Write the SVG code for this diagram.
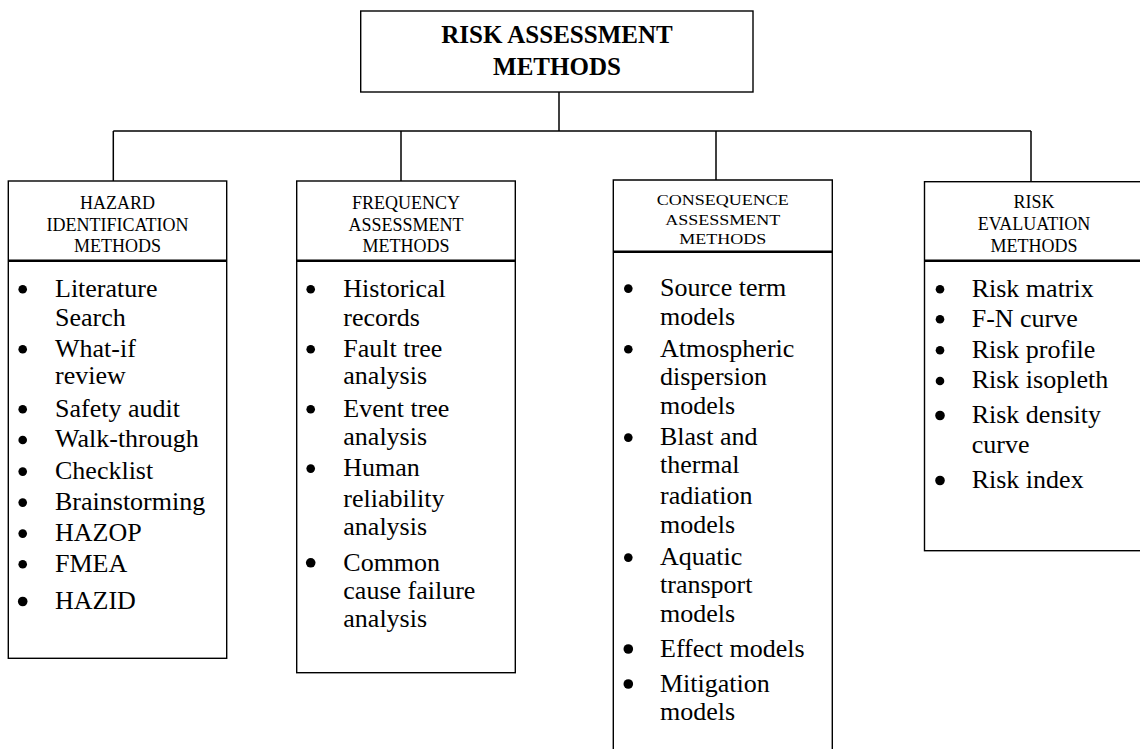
<svg xmlns="http://www.w3.org/2000/svg" width="1140" height="749" viewBox="0 0 1140 749">
  <style>
    .box { fill: #ffffff; stroke: #000000; stroke-width: 1.4; }
    .div { stroke: #000000; stroke-width: 2.4; }
    .wire { fill: none; stroke: #000000; stroke-width: 1.5; }
    .title { font-family: "Liberation Serif", "Times New Roman", serif; font-size: 25px; font-weight: bold; fill: #000; text-anchor: middle; }
    .head { font-family: "Liberation Serif", "Times New Roman", serif; font-size: 18px; fill: #000; text-anchor: middle; }
    .item { font-family: "Liberation Serif", "Times New Roman", serif; font-size: 26px; fill: #000; }
    .dot { fill: #000000; }
  </style>
  <rect width="1140" height="749" fill="#ffffff"/>

  <!-- tree connectors -->
  <g id="connectors">
    <path class="wire" d="M559 92 V131"/>
    <path class="wire" d="M113.3 131 H1031"/>
    <path class="wire" d="M113.3 131 V181"/>
    <path class="wire" d="M401 131 V181"/>
    <path class="wire" d="M716 131 V180"/>
    <path class="wire" d="M1031 131 V181.5"/>
  </g>

  <!-- root -->
  <g id="root">
    <rect class="box" x="360.7" y="11" width="392.3" height="81"/>
    <text class="title" x="557" y="43">RISK ASSESSMENT</text>
    <text class="title" x="557" y="75">METHODS</text>
  </g>

  <!-- hazard identification -->
  <g id="hazard">
    <rect class="box" x="8.3" y="181" width="218.4" height="477.3"/>
    <line class="div" x1="8.3" y1="260.7" x2="226.7" y2="260.7"/>
    <text class="head" x="117.5" y="209">HAZARD</text>
    <text class="head" x="117.5" y="230.7">IDENTIFICATION</text>
    <text class="head" x="117.5" y="251.7">METHODS</text>
    <g class="dot">
      <circle cx="22.7" cy="289.3" r="4.3"/>
      <circle cx="22.7" cy="349.3" r="4.3"/>
      <circle cx="22.7" cy="409.3" r="4.3"/>
      <circle cx="22.7" cy="440" r="4.3"/>
      <circle cx="22.7" cy="471.6" r="4.3"/>
      <circle cx="22.7" cy="502.6" r="4.3"/>
      <circle cx="22.7" cy="533.6" r="4.3"/>
      <circle cx="22.7" cy="564.3" r="4.3"/>
      <circle cx="22.7" cy="601.5" r="4.8"/>
    </g>
    <text class="item" x="55" y="296.7">Literature</text>
    <text class="item" x="55" y="325.7">Search</text>
    <text class="item" x="55" y="356.7">What-if</text>
    <text class="item" x="55" y="384">review</text>
    <text class="item" x="55" y="416.7">Safety audit</text>
    <text class="item" x="55" y="447.3">Walk-through</text>
    <text class="item" x="55" y="479">Checklist</text>
    <text class="item" x="55" y="510">Brainstorming</text>
    <text class="item" x="55" y="541">HAZOP</text>
    <text class="item" x="55" y="571.7">FMEA</text>
    <text class="item" x="55" y="609.3">HAZID</text>
  </g>

  <!-- frequency assessment -->
  <g id="frequency">
    <rect class="box" x="296.7" y="181" width="218.6" height="491.7"/>
    <line class="div" x1="296.7" y1="260.7" x2="515.3" y2="260.7"/>
    <text class="head" x="406" y="209.3">FREQUENCY</text>
    <text class="head" x="406" y="230.7">ASSESSMENT</text>
    <text class="head" x="406" y="251.7">METHODS</text>
    <g class="dot">
      <circle cx="310.7" cy="289.3" r="4.3"/>
      <circle cx="310.7" cy="349.3" r="4.3"/>
      <circle cx="310.7" cy="409.3" r="4.3"/>
      <circle cx="310.7" cy="468.6" r="4.3"/>
      <circle cx="310.7" cy="562.8" r="4.8"/>
    </g>
    <text class="item" x="343.3" y="296.7">Historical</text>
    <text class="item" x="343.3" y="325.7">records</text>
    <text class="item" x="343.3" y="356.7">Fault tree</text>
    <text class="item" x="343.3" y="384.3">analysis</text>
    <text class="item" x="343.3" y="416.7">Event tree</text>
    <text class="item" x="343.3" y="445">analysis</text>
    <text class="item" x="343.3" y="476">Human</text>
    <text class="item" x="343.3" y="506.7">reliability</text>
    <text class="item" x="343.3" y="535">analysis</text>
    <text class="item" x="343.3" y="570.7">Common</text>
    <text class="item" x="343.3" y="599">cause failure</text>
    <text class="item" x="343.3" y="626.7">analysis</text>
  </g>

  <!-- consequence assessment (runs past the lower edge) -->
  <g id="consequence">
    <path class="box" d="M613.3 760 V180 H832.3 V760"/>
    <line class="div" x1="613.3" y1="251.7" x2="832.3" y2="251.7"/>
    <text class="head" transform="translate(722.8 205) scale(1 0.84)">CONSEQUENCE</text>
    <text class="head" transform="translate(722.8 225) scale(1 0.84)">ASSESSMENT</text>
    <text class="head" transform="translate(722.8 244) scale(1 0.84)">METHODS</text>
    <g class="dot">
      <circle cx="628.3" cy="288.6" r="4.3"/>
      <circle cx="628.3" cy="349.3" r="4.3"/>
      <circle cx="628.3" cy="437.6" r="4.3"/>
      <circle cx="628.3" cy="557.6" r="4.3"/>
      <circle cx="628.3" cy="649" r="4.8"/>
      <circle cx="628.3" cy="684" r="4.8"/>
    </g>
    <text class="item" x="660" y="296">Source term</text>
    <text class="item" x="660" y="325">models</text>
    <text class="item" x="660" y="356.7">Atmospheric</text>
    <text class="item" x="660" y="385">dispersion</text>
    <text class="item" x="660" y="414">models</text>
    <text class="item" x="660" y="445">Blast and</text>
    <text class="item" x="660" y="473.3">thermal</text>
    <text class="item" x="660" y="504">radiation</text>
    <text class="item" x="660" y="533.3">models</text>
    <text class="item" x="660" y="565">Aquatic</text>
    <text class="item" x="660" y="593.3">transport</text>
    <text class="item" x="660" y="621.7">models</text>
    <text class="item" x="660" y="656.7">Effect models</text>
    <text class="item" x="660" y="691.7">Mitigation</text>
    <text class="item" x="660" y="720">models</text>
  </g>

  <!-- risk evaluation (runs past the right edge) -->
  <g id="evaluation">
    <rect class="box" x="924.5" y="181.7" width="220" height="369"/>
    <line class="div" x1="924.5" y1="260.7" x2="1145" y2="260.7"/>
    <text class="head" x="1034" y="208">RISK</text>
    <text class="head" x="1034" y="230">EVALUATION</text>
    <text class="head" x="1034" y="251.7">METHODS</text>
    <g class="dot">
      <circle cx="940" cy="289.3" r="4.3"/>
      <circle cx="940" cy="319.3" r="4.3"/>
      <circle cx="940" cy="350.3" r="4.3"/>
      <circle cx="940" cy="381" r="4.3"/>
      <circle cx="940" cy="415.5" r="4.8"/>
      <circle cx="940" cy="480.5" r="4.8"/>
    </g>
    <text class="item" x="971.7" y="296.7">Risk matrix</text>
    <text class="item" x="971.7" y="326.7">F-N curve</text>
    <text class="item" x="971.7" y="357.7">Risk profile</text>
    <text class="item" x="971.7" y="388.3">Risk isopleth</text>
    <text class="item" x="971.7" y="423.3">Risk density</text>
    <text class="item" x="971.7" y="453.3">curve</text>
    <text class="item" x="971.7" y="488.3">Risk index</text>
  </g>
</svg>
